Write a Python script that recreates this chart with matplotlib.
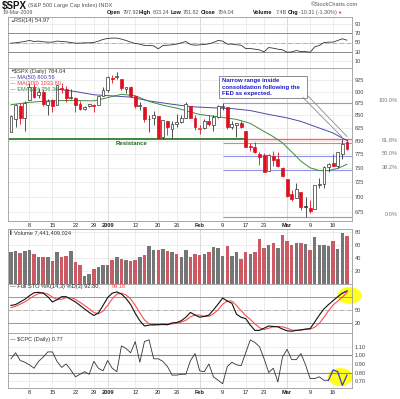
import numpy as np
import matplotlib
matplotlib.use("Agg")
import matplotlib.pyplot as plt
from matplotlib.patches import Rectangle, Ellipse
from matplotlib.lines import Line2D
from matplotlib.ticker import FixedLocator, NullLocator
from matplotlib.transforms import blended_transform_factory, offset_copy

# daily bars, 2 Dec 2008 .. 19 Mar 2009 (index 0..73)
opens = [817.24, 843.60, 869.75, 844.43,
         882.71, 909.91, 892.17, 898.35, 871.79,
         881.07, 871.53, 908.16, 905.98, 886.96,
         887.20, 874.31, 863.87, 869.51,
         872.37, 870.58, 890.59, 902.99,
         929.17, 931.17, 927.45, 905.73, 909.91,
         890.40, 869.79, 867.28, 841.99, 844.45,
         849.64, 806.77, 839.74, 822.16,
         832.50, 837.30, 845.73, 868.89, 845.69,
         823.09, 825.69, 837.77, 831.75, 846.09,
         868.24, 866.87, 827.41, 829.91, 833.95,
         818.61, 791.06, 787.91, 775.87,
         773.25, 744.69, 770.64, 765.76, 749.93,
         729.57, 704.44, 698.60, 708.27, 684.04,
         680.76, 679.28, 719.59, 720.89, 751.97,
         758.84, 753.88, 776.01, 797.92]
highs = [850.54, 873.12, 875.60, 879.42,
         918.57, 916.26, 908.27, 904.63, 883.24,
         884.63, 914.66, 918.85, 911.02, 905.47,
         887.37, 880.44, 869.79, 873.74,
         873.70, 891.12, 910.32, 934.73,
         936.63, 943.85, 927.45, 910.00, 911.93,
         890.40, 877.02, 867.28, 851.59, 858.13,
         849.64, 841.72, 839.74, 838.61,
         852.53, 850.45, 877.86, 868.89, 851.66,
         830.78, 842.60, 851.85, 850.55, 870.75,
         875.01, 868.05, 838.22, 835.48, 839.43,
         818.61, 796.17, 797.58, 778.69,
         777.85, 775.49, 780.12, 779.42, 751.27,
         729.57, 711.67, 724.12, 708.27, 699.09,
         695.27, 719.60, 731.92, 752.63, 758.29,
         774.53, 778.12, 803.04, 803.24]
lows = [817.24, 827.60, 833.60, 818.41,
        882.71, 885.38, 885.45, 868.73, 851.35,
        857.72, 871.53, 895.94, 877.44, 883.02,
        857.09, 860.10, 861.44, 866.52,
        857.07, 870.58, 889.67, 899.35,
        919.53, 927.28, 902.37, 896.81, 888.31,
        864.32, 862.02, 836.93, 817.04, 830.66,
        804.47, 804.30, 811.29, 806.07,
        827.69, 835.40, 845.73, 844.15, 821.67,
        812.87, 821.98, 829.18, 819.91, 845.42,
        861.65, 822.99, 822.30, 808.06, 825.21,
        789.17, 780.43, 777.03, 754.25,
        742.37, 744.69, 752.89, 751.75, 734.52,
        699.70, 692.30, 698.60, 677.93, 666.79,
        672.88, 679.28, 713.85, 714.76, 742.46,
        753.37, 749.93, 765.64, 781.82]
closes = [848.81, 870.74, 845.22, 876.07,
          909.70, 888.67, 899.24, 873.59, 879.73,
          868.57, 913.18, 904.42, 885.28, 887.88,
          871.63, 863.16, 868.15, 872.80,
          869.42, 890.64, 903.25, 931.80,
          927.45, 934.70, 906.65, 909.73, 890.35,
          870.26, 871.79, 842.62, 843.74, 850.12,
          805.22, 840.24, 827.50, 831.95,
          836.57, 845.71, 874.09, 845.14, 825.88,
          825.44, 838.51, 832.23, 845.85, 868.60,
          869.89, 827.16, 833.74, 835.19, 826.84,
          789.17, 788.42, 778.94, 770.05,
          743.33, 773.14, 764.90, 752.83, 735.09,
          700.82, 696.33, 712.87, 682.55, 683.38,
          676.53, 719.60, 721.36, 750.74, 756.55,
          753.89, 778.12, 794.35, 784.04]

# volume in 100 millions, 1 = grey bar, 0 = red bar
volume = [49, 51, 48, 51, 53, 46, 41, 42, 42, 35,
          49, 42, 44, 51, 34, 29, 12, 15, 23, 26,
          29, 29, 37, 41, 39, 37, 35, 37, 42, 45,
          59, 53, 53, 54, 51, 50, 46, 41, 53, 41,
          46, 45, 46, 50, 57, 55, 43, 58, 43, 49,
          39, 49, 46, 50, 70, 55, 60, 63, 55, 76,
          66, 61, 63, 63, 62, 53, 73, 61, 60, 59,
          67, 54, 79, 74.4]
vol_up = [1, 1, 0, 1, 1, 0, 1, 0, 1, 0, 1, 0, 0, 1, 0, 0, 1, 1, 0, 1,
          1, 1, 0, 1, 0, 1, 0, 0, 1, 0, 1, 1, 0, 1, 0, 1, 0, 1, 1, 0,
          0, 0, 1, 0, 1, 1, 1, 0, 1, 1, 0, 0, 1, 0, 0, 0, 1, 0, 1, 0,
          0, 0, 1, 0, 1, 0, 1, 1, 1, 1, 0, 1, 1, 0]

rsi = [48.6, 49.3, 50.8, 52.2, 54.4, 52.2, 53.0, 51.5, 50.8, 50.8,
       53.0, 52.2, 51.5, 50.0, 48.6, 48.6, 49.3, 49.3, 50.0, 53.0,
       56.6, 58.8, 59.5, 59.5, 57.3, 54.4, 50.8, 47.9, 46.5, 43.5,
       43.5, 42.8, 36.3, 43.5, 44.2, 45.0, 46.5, 49.3, 52.2, 45.7,
       44.2, 45.0, 45.7, 47.2, 50.0, 54.4, 53.0, 46.5, 46.5, 45.0,
       44.2, 37.0, 37.0, 35.6, 34.1, 29.7, 39.2, 37.7, 35.6, 34.1,
       29.0, 29.7, 32.7, 30.5, 30.5, 29.0, 40.7, 43.5, 50.0, 50.8,
       50.8, 54.4, 58.0, 54.97]

sto_k = [60, 62, 68, 74, 82, 89, 90, 88, 80, 68,
         73, 80, 80, 74, 68, 60, 52, 44, 37, 43,
         60, 78, 88, 91, 86, 76, 62, 42, 25, 13,
         15, 16, 16, 17, 16, 20, 21, 25, 33, 44,
         38, 33, 35, 38, 50, 63, 77, 70, 65, 40,
         33, 30, 15, 3, 3, 8, 13, 12, 11, 6,
         2, 1, 3, 4, 6, 7, 22, 38, 52, 62,
         71, 80, 88, 92.8]
sto_d = [55, 58, 63, 68, 75, 82, 87, 89, 86, 79,
         74, 74, 78, 78, 74, 67, 60, 52, 44, 41,
         47, 60, 75, 86, 88, 84, 75, 60, 43, 27,
         18, 15, 16, 16, 16, 18, 19, 22, 26, 34,
         38, 38, 35, 35, 41, 50, 63, 70, 70, 60,
         48, 37, 28, 18, 9, 5, 8, 11, 12, 11,
         8, 4, 3, 4, 5, 6, 10, 19, 33, 48,
         61, 70, 79, 89.18]

cpc = [0.96, 1.03, 0.94, 0.92, 0.89, 0.85, 0.93, 0.98, 1.04, 1.04,
       0.93, 0.86, 0.90, 0.83, 0.75, 0.78, 0.81, 0.78, 0.93, 0.85,
       0.82, 0.94, 0.85, 0.81, 1.11, 1.08, 1.03, 1.16, 0.92, 1.16,
       1.18, 0.96, 0.96, 0.93, 0.87, 0.77, 0.77, 0.78, 0.78, 0.94,
       1.02, 0.82, 0.81, 0.90, 0.75, 0.71, 0.67, 0.87, 0.92, 0.89,
       0.88, 1.03, 1.18, 1.15, 1.10, 0.96, 0.80, 0.85, 0.69, 0.98,
       1.07, 0.95, 0.95, 1.02, 0.89, 0.73, 0.73, 0.75, 0.71, 0.71,
       0.83, 0.81, 0.65, 0.77]

# moving averages at a few days
ma50_days = [10, 14, 18, 23, 26, 30, 35, 39, 43, 48, 52, 56, 60, 63, 66, 70, 73]
ma50_vals = [905, 900, 893, 890, 888, 880, 873, 868, 866, 864, 860, 852, 845, 838, 828, 815, 800.56]
ema_days = [0, 4, 8, 13, 18, 21, 24, 27, 30, 33, 36, 41, 46, 49, 52, 55, 57, 59, 61, 63, 65, 67, 69, 71, 73]
ema_vals = [872, 877, 880, 881, 880, 887, 894, 891, 879, 871, 865, 852, 846, 842, 834, 818, 808, 796,
            779, 762, 750, 745, 745, 749, 756.36]

resistance = 803.2
fib_start = 46
fib_levels = [875.01, 795.5, 770.9, 746.3, 666.79]
fib_labels = ['100.0%', '61.8%', '50.0%', '38.2%', '0.0%']

date_idx = [4, 9, 14, 18, 21, 27, 32, 36, 41, 46, 51, 55, 60, 65, 70]
date_labels = ['8', '15', '22', '29', '2009', '12', '20', '26', 'Feb', '9', '17', '23', 'Mar', '9', '16']
month_idx = [21, 41, 60]

price_ticks = [675, 700, 725, 750, 775, 800, 825, 850, 875, 900, 925]

plt.rcParams['font.family'] = ['Liberation Sans', 'DejaVu Sans']

W, H = 400, 399
fig = plt.figure(figsize=(W / 100, H / 100), dpi=100)
fig.patch.set_facecolor('white')
FS = 4.1
XMIN, XMAX = -0.65, 74.1
n = len(closes)
x = np.arange(n)


def fbox(top, bottom, left=8, right=352):
    return [left / W, 1 - bottom / H, (right - left) / W, (bottom - top) / H]


def ftext(px, py, s, **kw):
    kw.setdefault('fontsize', FS)
    kw.setdefault('va', 'center')
    return fig.text(px / W, 1 - py / H, s, **kw)


def style(ax, ticks, labels, ylim, log=False):
    if log:
        ax.set_yscale('log')
    ax.set_xlim(XMIN, XMAX)
    ax.set_ylim(*ylim)
    ax.yaxis.tick_right()
    ax.yaxis.set_major_locator(FixedLocator(ticks))
    ax.yaxis.set_minor_locator(NullLocator())
    ax.set_yticklabels(labels)
    ax.tick_params(axis='y', length=0, pad=2.2, labelsize=FS, labelcolor='#444444')
    ax.set_xticks(date_idx)
    ax.xaxis.set_minor_locator(NullLocator())
    ax.tick_params(axis='x', length=0, labelbottom=False)
    for s in ax.spines.values():
        s.set_color('#9a9a9a')
        s.set_linewidth(0.6)
    ax.grid(True, color='#e6e6e6', lw=0.5)
    ax.set_axisbelow(True)
    for m in month_idx:
        ax.axvline(m, color='#bdbdbd', lw=0.6, zorder=0.5)


def date_axis(ax):
    ax.tick_params(axis='x', labelbottom=True, labelsize=FS, pad=1.2, labelcolor='#222222')
    ax.set_xticklabels(date_labels)
    for lab in ax.get_xticklabels():
        if lab.get_text() in ('2009', 'Feb', 'Mar'):
            lab.set_fontweight('bold')


# ---- RSI
ax_rsi = fig.add_axes(fbox(17, 68))
style(ax_rsi, [10, 30, 50, 70, 90], ['10', '30', '50', '70', '90'], (-5, 105))
ax_rsi.axhline(70, color='#8a8a8a', lw=0.7)
ax_rsi.axhline(30, color='#8a8a8a', lw=0.7)
ax_rsi.axhline(50, color='#9a9a9a', lw=0.5, ls='-.')
ax_rsi.plot(x, rsi, color='#333333', lw=0.6)

# ---- price
ax_px = fig.add_axes(fbox(68, 221))
style(ax_px, price_ticks, [str(t) for t in price_ticks], (660.5, 952), log=True)
date_axis(ax_px)
for lvl in fib_levels:
    ax_px.hlines(lvl, fib_start, XMAX, color='#9494e6', lw=0.8, zorder=1)
ax_px.hlines(resistance, XMIN, 50.9, color='#2e7d32', lw=1.3, zorder=1.5)
ax_px.hlines(resistance, 50.9, XMAX, color='#ff6060', lw=1.0, zorder=1.5)
ax_px.plot(ma50_days, ma50_vals, color='#4a4aa8', lw=0.7, zorder=2)
ax_px.plot(ema_days, ema_vals, color='#3f8a3f', lw=0.7, zorder=2)
for i in range(n):
    o, h, l, c = opens[i], highs[i], lows[i], closes[i]
    down = i > 0 and c < closes[i - 1]
    col = '#dd1020' if down else '#333333'
    ax_px.vlines(i, l, h, color=col, lw=0.6, zorder=3)
    bottom = min(o, c)
    height = max(abs(c - o), 0.9)
    face = 'white' if c >= o else col
    ax_px.add_patch(Rectangle((i - 0.31, bottom), 0.62, height, facecolor=face,
                              edgecolor=col, lw=0.5, zorder=4))

tr = offset_copy(blended_transform_factory(fig.transFigure, ax_px.transData), fig=fig, y=2.5, units='dots')
for lvl, lab in zip(fib_levels, fib_labels):
    fig.text(398 / W, lvl, lab, transform=tr, ha='right', va='center', fontsize=FS, color='#777777')

# ---- volume
ax_vol = fig.add_axes(fbox(229, 284))
style(ax_vol, [20, 40, 60, 80], ['20', '40', '60', '80'], (0, 85))
vcols = ['#767676' if u else '#cc5a64' for u in vol_up]
ax_vol.bar(x, volume, width=0.76, color=vcols, edgecolor='none', zorder=2)

# ---- full stochastics
ax_sto = fig.add_axes(fbox(284, 333))
style(ax_sto, [20, 50, 80], ['20', '50', '80'], (-3, 109))
ax_sto.axhline(80, color='#9a9a9a', lw=0.7)
ax_sto.axhline(20, color='#9a9a9a', lw=0.7)
ax_sto.axhline(50, color='#9a9a9a', lw=0.5, ls='-.')
ax_sto.add_patch(Ellipse((349.5 / W, 1 - 295.5 / H), 24 / W, 17 / H, transform=fig.transFigure,
                         facecolor='#ffff1a', edgecolor='none', clip_on=False, zorder=1))
ax_sto.plot(x, sto_d, color='#ff4d4d', lw=0.8, zorder=2)
ax_sto.plot(x, sto_k, color='#111111', lw=0.8, zorder=3)
ax_sto.plot(x[-2:], sto_k[-2:], color='#3333cc', lw=0.8, zorder=4)

# ---- put/call ratio
ax_cpc = fig.add_axes(fbox(333, 388))
style(ax_cpc, [0.7, 0.8, 0.9, 1.0, 1.1], ['0.70', '0.80', '0.90', '1.00', '1.10'], (0.62, 1.26))
date_axis(ax_cpc)
ax_cpc.axhline(1.0, color='#6f9e5e', lw=0.8)
ax_cpc.axhline(0.8, color='#6f9e5e', lw=0.8)
ax_cpc.add_patch(Ellipse((340.5 / W, 1 - 377 / H), 25 / W, 18 / H, transform=fig.transFigure,
                         facecolor='#ffff1a', edgecolor='none', clip_on=False, zorder=1))
ax_cpc.plot(x[:70], cpc[:70], color='#333333', lw=0.6, zorder=2)
ax_cpc.plot(x[69:], cpc[69:], color='#3b3bd0', lw=0.9, zorder=3)

# ---- header
ftext(2, 6, '$SPX', fontsize=7, weight='bold', color='#111111')
ftext(28, 6, '(S&P 500 Large Cap Index) INDX', color='#555555')
ftext(358, 4.5, '\u00a9StockCharts.com', ha='right', color='#555555')
ftext(3, 12.5, '19-Mar-2009', fontsize=3.8, color='#555555')
for px, s, bold in [(107, 'Open', True), (123, '797.92', False), (139, 'High', True),
                    (153, '803.24', False), (171, 'Low', True), (183, '781.82', False),
                    (201, 'Close', True), (218, '784.04', False), (253, 'Volume', True),
                    (276, '7.4B', False), (288, 'Chg', True), (299, '-10.31 (-1.30%)', False)]:
    ftext(px, 12.5, s, fontsize=3.9, weight='bold' if bold else 'normal',
          color='#111111' if bold else '#555555')
ftext(337, 12.5, '\u25bc', fontsize=3, color='#dd1020')

# ---- panel legends
ftext(10, 20.8, '\u25b2', fontsize=2.8, color='#2e7d32')
ftext(14, 20.8, 'RSI(14) 54.97', color='#333333')
ftext(10, 71.3, '\u25bc', fontsize=2.8, color='#333333')
ftext(14, 71.3, '$SPX (Daily) 784.04', color='#333333')
ftext(10, 77, '\u2014 MA(50) 800.56', color='#4040a0')
ftext(10, 83, '\u2014 MA(200) 1033.60', color='#e04040')
ftext(10, 89, '\u2014 EMA(20) 756.36', color='#3f7f3f')
ftext(10, 232.5, '\u258c', fontsize=3, color='#555555')
ftext(14, 232.5, 'Volume 7,441,409,024', color='#333333')
ftext(10, 286.8, '\u2014 Full STO %K(14,3) %D(3) 92.80,', color='#222222')
ftext(112, 286.8, '89.18', color='#ff4d4d')
ftext(10, 340, '\u2014 $CPC (Daily) 0.77', color='#333333')
ftext(132, 143.5, 'Resistance', ha='center', fontsize=4.3, weight='bold', color='#1e6b1e')

# ---- note box and pointers
fig.add_artist(Rectangle((219 / W, 1 - 97.5 / H), 88 / W, 21 / H, transform=fig.transFigure,
                         facecolor='white', edgecolor='#7a7a7a', lw=0.6, zorder=5))
for py, s in [(80.5, 'Narrow range inside'), (87, 'consolidation following the'),
              (93.5, 'FED as expected.')]:
    ftext(222.5, py, s, fontsize=4.3, weight='bold', color='#1a1acc', zorder=6)
for x0, y0, x1, y1 in [(303, 97.5, 342, 137), (308, 96, 347, 136.5)]:
    fig.add_artist(Line2D([x0 / W, x1 / W], [1 - y0 / H, 1 - y1 / H], transform=fig.transFigure,
                          color='#8a8a8a', lw=0.6, zorder=5))

fig.savefig('out.png', dpi=100, facecolor='white')
